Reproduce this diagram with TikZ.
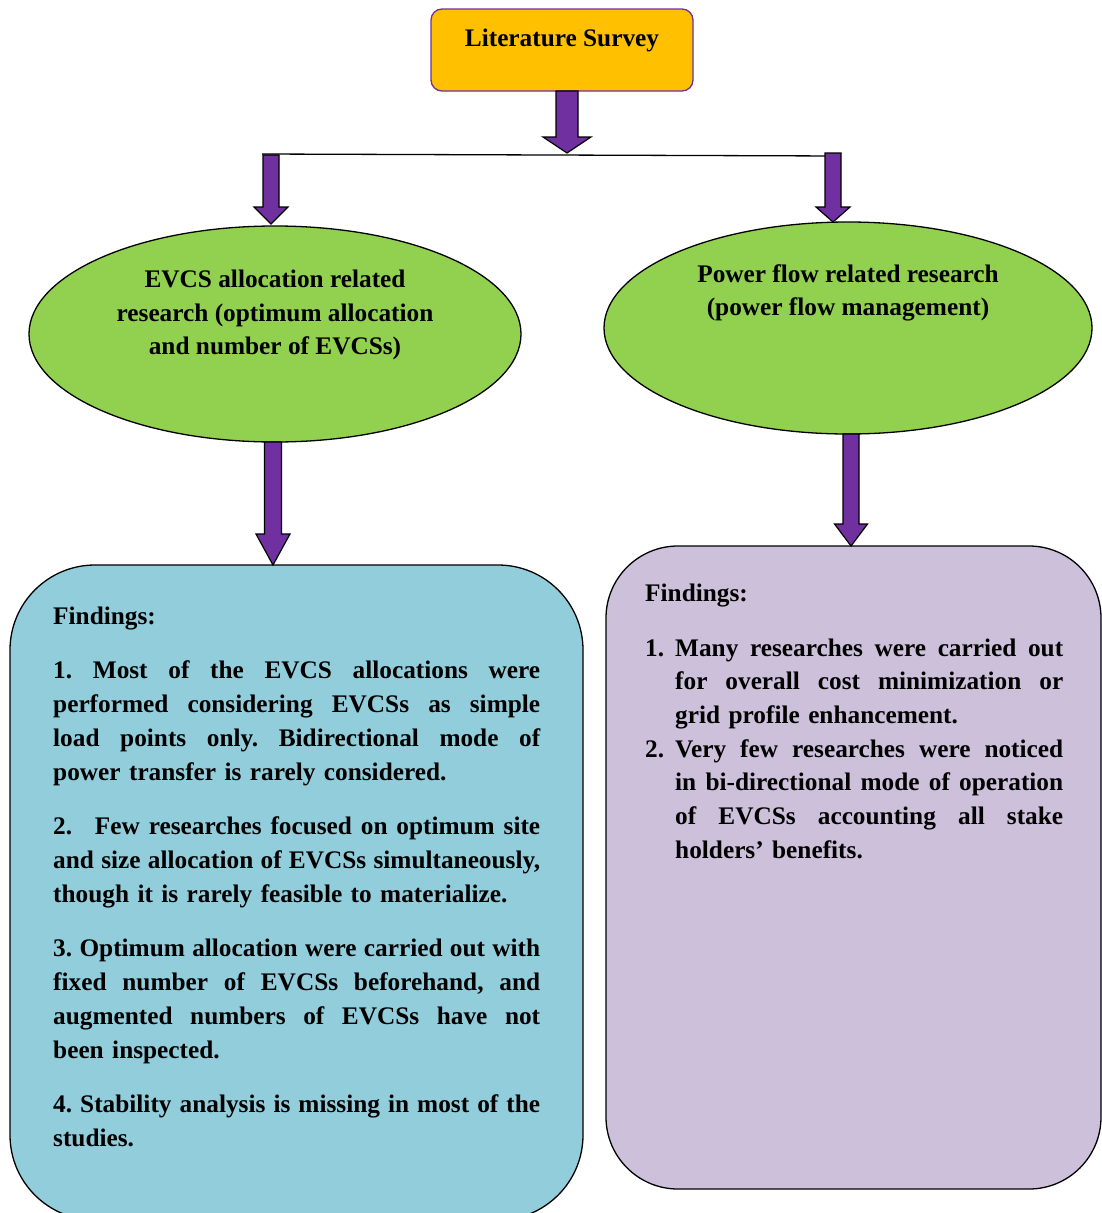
\documentclass[tikz,border=0pt]{standalone}
\usepackage{fontspec}
\setmainfont{Liberation Serif}
\usetikzlibrary{shapes.geometric,calc}

\definecolor{surveyfill}{HTML}{FFC000}
\definecolor{arrowviolet}{HTML}{7030A0}
\definecolor{leafgreen}{HTML}{92D050}
\definecolor{findblue}{HTML}{92CDDC}
\definecolor{findlilac}{HTML}{CCC0DA}

% justified lines of fixed width: interword glue stretches evenly
\newcommand\fitline[2]{\leavevmode\hbox to #1{\frenchspacing
  \spaceskip=0.25em plus 1fil minus 0.12em\relax #2}}
\newcommand\jl[1]{\fitline{487pt}{#1}}
\newcommand\jr[1]{\fitline{388pt}{#1}}

% block arrow pointing down: start, tip, shaft half width, head half width, head length
\newcommand\blockarr[5]{%
  \draw[blockarrow] ($(#1)+(-#3,0)$) -- ($(#1)+(#3,0)$) -- ($(#2)+(#3,-#5)$)
    -- ($(#2)+(#4,-#5)$) -- (#2) -- ($(#2)+(-#4,-#5)$) -- ($(#2)+(-#3,-#5)$) -- cycle;}

\tikzset{
  blockarrow/.style={draw=black, line width=1.2pt, fill=arrowviolet, line join=miter},
  txt/.style={font=\fontsize{25.3pt}{34pt}\selectfont\bfseries, inner sep=0pt},
  para/.style={txt, anchor=base west, align=left},
  oval/.style={ellipse, draw=black, line width=1.3pt, fill=leafgreen, inner sep=0pt},
}

\begin{document}
\begin{tikzpicture}[x=1pt,y=-1pt]
\path[use as bounding box, clip] (0,0) rectangle (1102,1213);

% top box
\node[draw=arrowviolet, line width=1.3pt, fill=surveyfill, rounded corners=11pt,
      minimum width=262pt, minimum height=82pt, inner sep=0pt] (lit) at (562,50) {};
\node[txt, anchor=base] (littext) at (562,46.5) {Literature Survey};

% ellipses
\node[oval, minimum width=492pt, minimum height=216pt] (evcs) at (275,334) {};
\node[txt, align=center, font=\fontsize{25.3pt}{33.5pt}\selectfont\bfseries] (evcstext) at (275,315)
  {EVCS allocation related\\research (optimum allocation\\and number of EVCSs)};
\node[oval, minimum width=488pt, minimum height=212pt] (pf) at (848,328) {};
\node[txt, align=center, font=\fontsize{25.3pt}{33.5pt}\selectfont\bfseries] (pftext) at (848,293)
  {Power flow related research\\(power flow management)};

% findings boxes
\node[draw=black, line width=1.3pt, fill=findblue, rounded corners=85pt,
      minimum width=573pt, minimum height=655pt, inner sep=0pt] (fa) at (296.5,892.5) {};
\node[draw=black, line width=1.3pt, fill=findlilac, rounded corners=72pt,
      minimum width=495pt, minimum height=643pt, inner sep=0pt] (fb) at (853.5,867.5) {};

% arrows and branch line
\coordinate (t0) at (567,91);
\coordinate (t1) at (567,153);
\blockarr{t0}{t1}{11}{24}{16}
\coordinate (bl) at (262,154);
\coordinate (br) at (840,156);
\draw[line width=1.3pt] (bl) -- (br);
\coordinate (l0) at (271,155);
\coordinate (l1) at (271,224);
\blockarr{l0}{l1}{8}{17}{17}
\coordinate (r0) at (833,153);
\coordinate (r1) at (833,222);
\blockarr{r0}{r1}{8}{17}{15}
\coordinate (m0) at (273,442);
\coordinate (m1) at (273,565);
\blockarr{m0}{m1}{8.5}{17}{31}
\coordinate (n0) at (851,434);
\coordinate (n1) at (851,546);
\blockarr{n0}{n1}{8}{16.5}{22}

% left findings
\node[para] (fah) at (53,624) {Findings:};
\node[para, text width=487pt] (p1) at (53,678)
  {\jl{1. Most of the EVCS allocations were}\\
   \jl{performed considering EVCSs as simple}\\
   \jl{load points only. Bidirectional mode of}\\
   power transfer is rarely considered.};
\node[para, text width=487pt] (p2) at (53,834)
  {\jl{2.\hspace{14pt} Few researches focused on optimum site}\\
   \jl{and size allocation of EVCSs simultaneously,}\\
   though it is rarely feasible to materialize.};
\node[para, text width=487pt] (p3) at (53,956)
  {\jl{3. Optimum allocation were carried out with}\\
   \jl{fixed number of EVCSs beforehand, and}\\
   \jl{augmented numbers of EVCSs have not}\\
   been inspected.};
\node[para, text width=487pt] (p4) at (53,1112)
  {\jl{4. Stability analysis is missing in most of the}\\
   studies.};

% right findings
\node[para] (fbh) at (645,601) {Findings:};
\node[para, text width=418pt, font=\fontsize{25.3pt}{33.7pt}\selectfont\bfseries] (q1) at (645,656)
  {\makebox[30pt][l]{1.}\jr{Many researches were carried out}\\
   \hspace*{30pt}\jr{for overall cost minimization or}\\
   \hspace*{30pt}grid profile enhancement.};
\node[para, text width=418pt, font=\fontsize{25.3pt}{33.7pt}\selectfont\bfseries] (q2) at (645,757)
  {\makebox[30pt][l]{2.}\jr{Very few researches were noticed}\\
   \hspace*{30pt}\jr{in bi-directional mode of operation}\\
   \hspace*{30pt}\jr{of EVCSs accounting all stake}\\
   \hspace*{30pt}holders’ benefits.};
\end{tikzpicture}
\end{document}
